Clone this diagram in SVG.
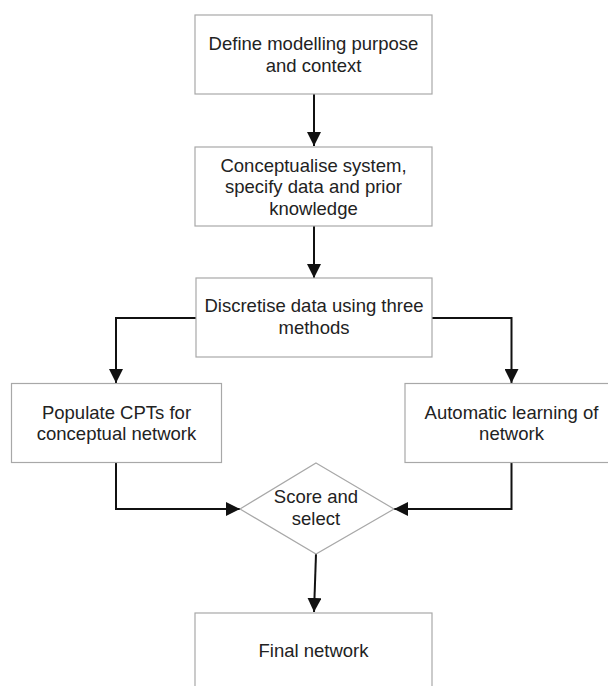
<svg xmlns="http://www.w3.org/2000/svg" width="608" height="686" viewBox="0 0 608 686">
  <style>
    .box { fill: #ffffff; stroke: #a8a8a8; stroke-width: 1.2; }
    .label { font-family: "Liberation Sans", Arial, sans-serif; font-size: 18.5px; fill: #222222; text-anchor: middle; }
    .edge { fill: none; stroke: #111111; stroke-width: 2; }
  </style>
  <defs>
    <marker id="arrow" markerUnits="userSpaceOnUse" markerWidth="14" markerHeight="14" viewBox="0 0 14 14" refX="14" refY="7" orient="auto">
      <path d="M0,0 L14,7 L0,14 Z" fill="#111111"/>
    </marker>
  </defs>
  <rect width="608" height="686" fill="#ffffff"/>

  <g id="connectors">
    <line class="edge" x1="314" y1="94" x2="314" y2="146" marker-end="url(#arrow)"/>
    <line class="edge" x1="314" y1="226" x2="314" y2="278" marker-end="url(#arrow)"/>
    <polyline class="edge" points="196,318 116,318 116,383" marker-end="url(#arrow)"/>
    <polyline class="edge" points="432,318 511.5,318 511.5,383" marker-end="url(#arrow)"/>
    <polyline class="edge" points="116,463 116,509 240,509" marker-end="url(#arrow)"/>
    <polyline class="edge" points="511.5,463 511.5,509 394,509" marker-end="url(#arrow)"/>
    <line class="edge" x1="316" y1="554" x2="314" y2="612" marker-end="url(#arrow)"/>
  </g>

  <g id="define">
    <rect class="box" x="195" y="15" width="237" height="79"/>
    <text class="label" x="313.5" y="50">Define modelling purpose</text>
    <text class="label" x="313.5" y="72">and context</text>
  </g>

  <g id="conceptualise">
    <rect class="box" x="195" y="147" width="237" height="79"/>
    <text class="label" x="313.5" y="171.5">Conceptualise system,</text>
    <text class="label" x="313.5" y="193">specify data and prior</text>
    <text class="label" x="313.5" y="214.5">knowledge</text>
  </g>

  <g id="discretise">
    <rect class="box" x="196" y="278" width="236" height="79"/>
    <text class="label" x="314" y="312">Discretise data using three</text>
    <text class="label" x="314" y="334">methods</text>
  </g>

  <g id="populate">
    <rect class="box" x="11.5" y="383.5" width="210" height="79"/>
    <text class="label" x="116.5" y="418.5">Populate CPTs for</text>
    <text class="label" x="116.5" y="439.5">conceptual network</text>
  </g>

  <g id="automatic">
    <rect class="box" x="405" y="383.5" width="213" height="79"/>
    <text class="label" x="511.5" y="418.5">Automatic learning of</text>
    <text class="label" x="511.5" y="439.5">network</text>
  </g>

  <g id="score">
    <polygon class="box" points="316,463 394,509 316,554 240,509"/>
    <text class="label" x="316" y="503">Score and</text>
    <text class="label" x="316" y="525">select</text>
  </g>

  <g id="final">
    <rect class="box" x="195" y="613" width="237" height="90"/>
    <text class="label" x="313.5" y="657">Final network</text>
  </g>
</svg>
